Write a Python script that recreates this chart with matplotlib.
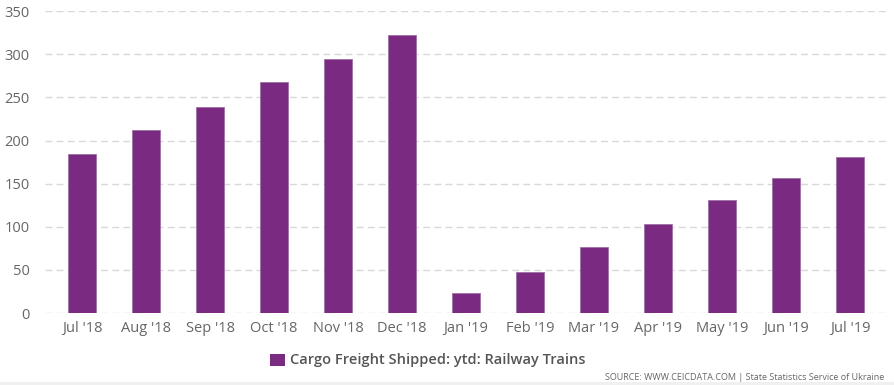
import matplotlib
matplotlib.use("Agg")
import matplotlib.pyplot as plt
from matplotlib.patches import Rectangle

categories = ["Jul '18", "Aug '18", "Sep '18", "Oct '18", "Nov '18", "Dec '18",
              "Jan '19", "Feb '19", "Mar '19", "Apr '19", "May '19", "Jun '19", "Jul '19"]
values = [184, 212, 239, 268, 295, 322, 23, 47, 76, 103, 131, 156, 181]
yticks = [0, 50, 100, 150, 200, 250, 300, 350]
series_name = "Cargo Freight Shipped: ytd: Railway Trains"
source_text = "SOURCE: WWW.CEICDATA.COM | State Statistics Service of Ukraine"

bar_color = "#7a2a80"
plt.rcParams['font.family'] = ['Open Sans', 'DejaVu Sans']

fig = plt.figure(figsize=(8.94, 3.85), dpi=100)
ax = fig.add_axes([45/894, 0.187, 845/894, 0.784])
x = list(range(len(categories)))
ax.bar(x, values, width=0.44, color=bar_color, edgecolor="#a070a8", linewidth=0.6, zorder=3)
ax.set_xlim(-37/64, len(categories) - 1 + 40/64)
ax.set_ylim(0, 350)
ax.set_yticks(yticks)
ax.set_xticks(x)
ax.set_xticklabels(categories)
ax.grid(axis='y', color='#d8d8d8', linestyle=(0, (5, 3)), linewidth=1, zorder=0)
for s in ax.spines.values():
    s.set_visible(False)
ax.tick_params(axis='both', length=0, labelsize=10.5, colors='#666666')
ax.tick_params(axis='y', pad=11)
ax.tick_params(axis='x', pad=6)

# legend
fig.patches.append(Rectangle((270/894, 1-366/385), 15/894, 12/385, transform=fig.transFigure,
                             facecolor=bar_color, edgecolor='none'))
fig.text(290/894, 1-360/385, series_name, fontsize=10.5, fontweight='semibold', color='#555555',
         va='center', ha='left')
fig.text(884/894, 1-377/385, source_text, fontsize=6.5, color='#666666', va='center', ha='right')
fig.patches.append(Rectangle((0, 0), 1, 3/385, transform=fig.transFigure,
                             facecolor='#f0f0f0', edgecolor='none'))

fig.savefig("out.png", dpi=100)
